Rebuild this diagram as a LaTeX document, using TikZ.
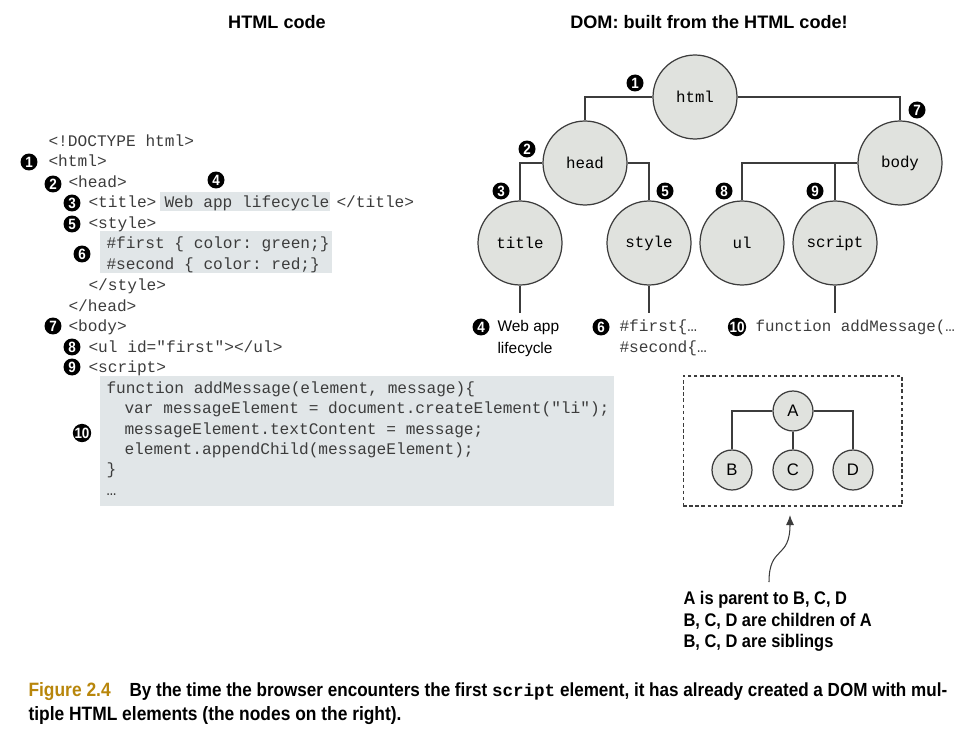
\documentclass[tikz,border=0pt]{standalone}
\usepackage{fontspec}
\setmainfont{Liberation Sans}
\setsansfont{Liberation Sans}
\setmonofont{Liberation Mono}
\newfontfamily\condfont[FakeStretch=0.9]{Liberation Sans}
\usetikzlibrary{arrows.meta}
\usetikzlibrary{positioning}
\definecolor{nodefill}{HTML}{E0E2DE}
\definecolor{codebg}{HTML}{E1E6E8}
\definecolor{inkgray}{HTML}{3C3C3C}
\definecolor{figgold}{HTML}{B8860B}
\tikzset{elem/.style={circle, draw=inkgray, fill=nodefill, line width=0.7pt, minimum size=1.68cm, inner sep=0pt, font=\ttfamily\fontsize{9}{10}\selectfont},
leaf/.style={circle, draw=inkgray, fill=nodefill, line width=0.7pt, minimum size=0.8cm, inner sep=0pt, font=\sffamily\fontsize{9.5}{10}\selectfont},
%black numbered bullets
num/.style={circle, fill=black, text=white, minimum size=0.34cm, inner sep=0pt, font=\condfont\bfseries\fontsize{8.5}{8.5}\selectfont},
code/.style={anchor=base west, inner sep=0pt, text=inkgray, font=\ttfamily\fontsize{9.2}{10}\selectfont},
label/.style={anchor=base west, inner sep=0pt, text=black, font=\sffamily\fontsize{8.8}{10}\selectfont},
heading/.style={inner sep=0pt, font=\sffamily\bfseries\fontsize{10.3}{12}\selectfont},
capfont/.style={anchor=base west, inner sep=0pt, font=\condfont\bfseries\fontsize{11}{13}\selectfont}}

\begin{document}
\begin{tikzpicture}[x=0.02cm, y=-0.02cm, line width=0.6pt]
\useasboundingbox (0,0) rectangle (980,743);
%\draw [help lines, step=50] (0,0) grid (980,743);

% headings
\node[heading] (htmlhead) at (277,22) {HTML code};
\node[heading] (domhead) at (709,22) {DOM: built from the HTML code!};

% code highlights
\fill[codebg] (160,192) rectangle (330,211);
\fill[codebg] (100,231) rectangle (332,273);
\fill[codebg] (100,376) rectangle (614,506);

% HTML code
\node[code] (l1) at (48,147) {<!DOCTYPE html>};
\node[code] (l2) at (48,167) {<html>};
\node[code] (l3) at (68,188) {<head>};
\node[code] (l4) at (88,208) {<title>};
\node[code] (l4b) at (164,208) {Web app lifecycle};
\node[code] (l4c) at (336,208) {</title>};
\node[code] (l5) at (88,229) {<style>};
\node[code] (l6) at (106,249) {\#first \{ color: green;\}};
\node[code] (l7) at (106,270) {\#second \{ color: red;\}};
\node[code] (l8) at (88,290) {</style>};
\node[code] (l9) at (68,311) {</head>};
\node[code] (l10) at (68,331) {<body>};
\node[code] (l11) at (88,352) {<ul id="first"></ul>};
\node[code] (l12) at (88,372) {<script>};
\node[code] (l13) at (106,393) {function addMessage(element, message)\{};
\node[code] (l14) at (124,413) {var messageElement = document.createElement("li");};
\node[code] (l15) at (124,434) {messageElement.textContent = message;};
\node[code] (l16) at (124,454) {element.appendChild(messageElement);};
\node[code] (l17) at (106,474) {\}};
\node[code] (l18) at (106,495) {…};

\foreach \n/\x/\y in {1/29/162, 2/53/184, 3/72/203, 4/216/180, 5/72/224, 6/82/254, 7/53/326, 8/72/347, 9/72/367, 10/82/433}
     \node[num] (c\n) at (\x,\y) {\n};

% DOM tree
\node[elem] (html) at (695,97) {html};
\node[elem] (head) at (585,163) {head};
\node[elem] (body) at (900,163) {body};
\node[elem] (title) at (520,243) {title};
\node[elem] (style) at (649,243) {style};
\node[elem] (ul) at (742,243) {ul};
\node[elem] (script) at (835,243) {script};

\draw[inkgray] (html.west) -| (head.north);
\draw[inkgray] (html.east) -| (body.north);
\draw[inkgray] (head.west) -| (title.north);
\draw[inkgray] (head.east) -| (style.north);
\draw[inkgray] (body.west) -| (ul.north);
\draw[inkgray] (body.west -| script.north) -- (script.north);

\coordinate (titleend) at (520,313);
\coordinate (styleend) at (649,313);
\coordinate (scriptend) at (835,313);
\draw[inkgray] (title.south) -- (titleend);
\draw[inkgray] (style.south) -- (styleend);
\draw[inkgray] (script.south) -- (scriptend);

\node[label] (webapp) at (497,331) {Web app};
\node[label] (lifecycle) at (497,353) {lifecycle};
\node[code] (firstrule) at (619,331) {\#first\{…};
\node[code] (secondrule) at (619,352) {\#second\{…};
\node[code, font=\ttfamily\fontsize{9}{10}\selectfont] (funcleaf) at (755,331) {function addMessage(…};

\foreach \n/\x/\y in {1/635/83, 2/527/149, 3/501/191, 5/665/191, 7/917/110, 8/724/191, 9/815/191, 4/481/327, 6/601/327, 10/737/327}
     \node[num] (d\n) at (\x,\y) {\n};

% parent / children example
\node[draw=inkgray, dash pattern=on 2pt off 1.5pt, minimum width=4.38cm, minimum height=2.6cm, inner sep=0pt] (frame) at (792.5,441) {};
\node[leaf] (A) at (793,411) {A};
\node[leaf] (B) at (732,470) {B};
\node[leaf] (C) at (793,470) {C};
\node[leaf] (D) at (853,470) {D};
\draw[inkgray] (A.west) -| (B.north);
\draw[inkgray] (A.east) -| (D.north);
\draw[inkgray] (A) -- (C);

\node[anchor=north west, align=left, inner sep=0pt, font=\condfont\bfseries\fontsize{10.4}{12.2}\selectfont] (note) at (683,591) {A is parent to B, C, D\\B, C, D are children of A\\B, C, D are siblings};
\coordinate (arrowtail) at (769,582);
\coordinate (arrowtip) at (790,515);
\draw[inkgray, -{Latex[length=2mm, width=1.6mm]}] (arrowtail) .. controls (769,545) and (790,560) .. (arrowtip);

% caption
\node[capfont, text=figgold] (figno) at (28,696) {Figure 2.4};
\node[capfont, font=\condfont\bfseries\fontsize{10.8}{13}\selectfont] (cap1) at (129,696) {By the time the browser encounters the first {\ttfamily\fontsize{10}{13}\selectfont\bfseries script} element, it has already created a DOM with mul-};
\node[capfont] (cap2) at (28,720) {tiple HTML elements (the nodes on the right).};

\end{tikzpicture}
\end{document}
